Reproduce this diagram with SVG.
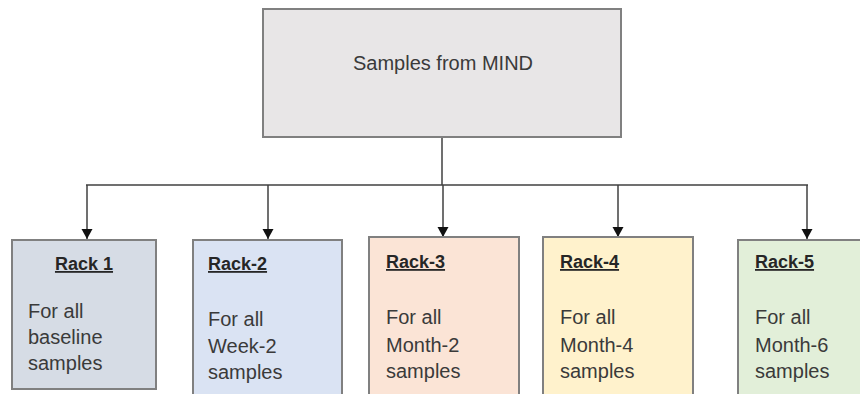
<svg xmlns="http://www.w3.org/2000/svg" width="860" height="394" viewBox="0 0 860 394">
<defs>
<style>
.box{stroke:#808080;stroke-width:2}
.t{font-family:"Liberation Sans",Arial,sans-serif;fill:#3a3a3a}
.title{font-size:18px;font-weight:bold;text-decoration:underline;fill:#262626}
.body{font-size:20px}
.conn{stroke:#404040;stroke-width:1.5;fill:none}
</style>
<marker id="arr" markerWidth="12" markerHeight="12" refX="10" refY="6" orient="auto" markerUnits="userSpaceOnUse">
<path d="M0,0.5 L10,6 L0,11.5 Z" fill="#111"/>
</marker>
</defs>
<rect width="860" height="394" fill="#fff"/>
<g id="connectors">
<line class="conn" x1="442" y1="137" x2="442" y2="185"/>
<line class="conn" x1="86" y1="185" x2="808" y2="185"/>
<line class="conn" x1="87" y1="185" x2="87" y2="239" marker-end="url(#arr)"/>
<line class="conn" x1="268" y1="185" x2="268" y2="239" marker-end="url(#arr)"/>
<line class="conn" x1="443" y1="185" x2="443" y2="237" marker-end="url(#arr)"/>
<line class="conn" x1="618" y1="185" x2="618" y2="237" marker-end="url(#arr)"/>
<line class="conn" x1="807" y1="185" x2="807" y2="239" marker-end="url(#arr)"/>
</g>
<g id="root">
<rect class="box" x="263" y="9" width="358" height="128" fill="#e8e6e7"/>
<text class="t" x="443" y="70" font-size="20" text-anchor="middle">Samples from MIND</text>
</g>
<g id="rack1">
<rect class="box" x="12" y="240" width="144" height="149" fill="#d6dce5"/>
<text class="t title" x="84" y="270" text-anchor="middle">Rack 1</text>
<text class="t body" x="28" y="318">For all</text>
<text class="t body" x="28" y="344">baseline</text>
<text class="t body" x="28" y="370">samples</text>
</g>
<g id="rack2">
<rect class="box" x="193" y="240" width="149" height="160" fill="#dae3f3"/>
<text class="t title" x="208" y="270">Rack-2</text>
<text class="t body" x="208" y="326">For all</text>
<text class="t body" x="208" y="353">Week-2</text>
<text class="t body" x="208" y="379">samples</text>
</g>
<g id="rack3">
<rect class="box" x="369" y="237" width="150" height="160" fill="#fbe4d6"/>
<text class="t title" x="386" y="268">Rack-3</text>
<text class="t body" x="386" y="324">For all</text>
<text class="t body" x="386" y="352">Month-2</text>
<text class="t body" x="386" y="378">samples</text>
</g>
<g id="rack4">
<rect class="box" x="543" y="237" width="150" height="160" fill="#fff2cc"/>
<text class="t title" x="560" y="268">Rack-4</text>
<text class="t body" x="560" y="324">For all</text>
<text class="t body" x="560" y="352">Month-4</text>
<text class="t body" x="560" y="378">samples</text>
</g>
<g id="rack5">
<rect class="box" x="738" y="240" width="140" height="160" fill="#e2efd9"/>
<text class="t title" x="755" y="268">Rack-5</text>
<text class="t body" x="755" y="324">For all</text>
<text class="t body" x="755" y="352">Month-6</text>
<text class="t body" x="755" y="378">samples</text>
</g>
</svg>
